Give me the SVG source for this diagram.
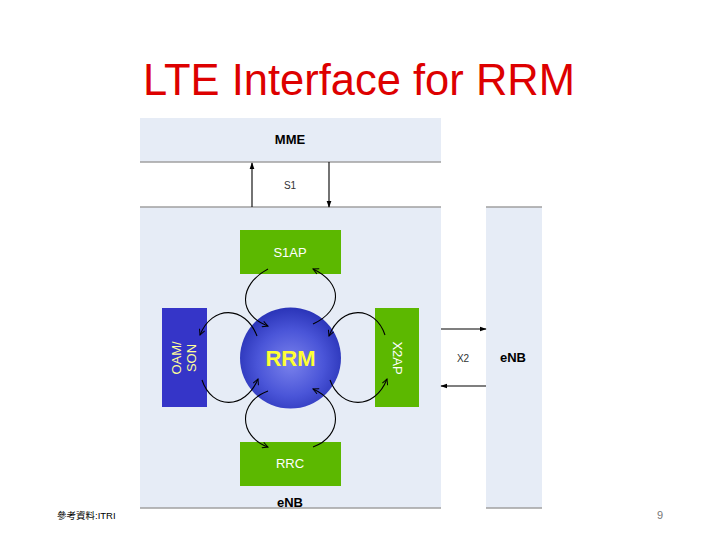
<svg xmlns="http://www.w3.org/2000/svg" width="720" height="540" viewBox="0 0 720 540">
<defs>
<style>
.bg{fill:#e6ecf6}
.edge{stroke:#a0a0a0;stroke-width:1.5}
.green{fill:#5cb800}
.lbl{font-family:"Liberation Sans",Arial,sans-serif;text-anchor:middle}
.b{font-weight:bold;font-size:13px;fill:#000}
.w{font-size:13px;fill:#fff}
.s{font-size:10px;fill:#333}
.conn path,.conn line{fill:none;stroke:#000;stroke-width:1.1}
</style>
<marker id="ah" viewBox="0 0 10 10" refX="9" refY="5" markerWidth="7" markerHeight="7" orient="auto" markerUnits="userSpaceOnUse">
<path d="M1,1 L9,5 L1,9" fill="none" stroke="#000" stroke-width="1.4"/>
</marker>
<marker id="ahs" viewBox="0 0 10 10" refX="9" refY="5" markerWidth="7" markerHeight="7" orient="auto" markerUnits="userSpaceOnUse">
<path d="M0,1.5 L10,5 L0,8.5 Z" fill="#000"/>
</marker>
<radialGradient id="rg" cx="50%" cy="55%" r="55%">
<stop offset="0" stop-color="#7a82ec"/>
<stop offset="0.6" stop-color="#4a55d8"/>
<stop offset="1" stop-color="#2a34b8"/>
</radialGradient>
</defs>
<rect width="720" height="540" fill="#fff"/>
<text x="359" y="95" font-family="'Liberation Sans',Arial,sans-serif" font-size="43.5" fill="#dd0000" text-anchor="middle">LTE Interface for RRM</text>

<g id="mme">
<rect class="bg" x="140" y="118" width="301" height="44"/>
<line class="edge" x1="140" y1="162" x2="441" y2="162"/>
<text class="lbl b" x="290" y="144">MME</text>
</g>
<g id="enb-main">
<rect class="bg" x="140" y="207" width="301" height="301"/>
<line class="edge" x1="140" y1="207" x2="441" y2="207"/>
<line class="edge" x1="140" y1="508" x2="441" y2="508"/>
<text class="lbl b" x="290" y="507">eNB</text>
</g>
<g id="enb-right">
<rect class="bg" x="486" y="207" width="56" height="301"/>
<line class="edge" x1="486" y1="207" x2="542" y2="207"/>
<line class="edge" x1="486" y1="508" x2="542" y2="508"/>
<text class="lbl b" x="513" y="362">eNB</text>
</g>
<g id="s1ap">
<rect class="green" x="240" y="230" width="101" height="44"/>
<text class="lbl w" x="290" y="257">S1AP</text>
</g>
<g id="rrc">
<rect class="green" x="240" y="442" width="101" height="44"/>
<text class="lbl w" x="290" y="468">RRC</text>
</g>
<g id="oam-son">
<rect x="162" y="308" width="45" height="99" fill="#3535c8"/>
<text class="lbl" font-size="13" fill="#ffff99" transform="translate(181,358) rotate(-90)">OAM/</text>
<text class="lbl" font-size="13" fill="#ffff99" transform="translate(196,358) rotate(-90)">SON</text>
</g>
<g id="x2ap">
<rect class="green" x="375" y="308" width="44" height="99"/>
<text class="lbl w" transform="translate(393,358) rotate(90)">X2AP</text>
</g>
<g id="rrm">
<circle cx="290.5" cy="358" r="50.5" fill="url(#rg)"/>
<text class="lbl" x="290.5" y="366" font-size="22" font-weight="bold" fill="#ffff33">RRM</text>
</g>
<g id="labels">
<text class="lbl s" x="290" y="189">S1</text>
<text class="lbl s" x="463" y="362">X2</text>
</g>
<g class="conn" id="connectors">
<line x1="252" y1="207" x2="252" y2="163" marker-end="url(#ahs)"/>
<line x1="329" y1="162" x2="329" y2="207" marker-end="url(#ahs)"/>
<line x1="441" y1="329" x2="486" y2="329" marker-end="url(#ahs)"/>
<line x1="486" y1="386" x2="441" y2="386" marker-end="url(#ahs)"/>
<path d="M268,269 C238,285 238,315 268,326" marker-end="url(#ah)"/>
<path d="M313,324 C343,310 343,283 313,269" marker-end="url(#ah)"/>
<path d="M257,336 C245,305 212,305 200,335" marker-end="url(#ah)"/>
<path d="M202,380 C212,410 245,410 258,379" marker-end="url(#ah)"/>
<path d="M385,335 C375,305 341,305 329,336" marker-end="url(#ah)"/>
<path d="M330,380 C341,410 375,410 387,379" marker-end="url(#ah)"/>
<path d="M268,391 C238,402 238,436 268,447" marker-end="url(#ah)"/>
<path d="M313,447 C343,436 343,402 313,389" marker-end="url(#ah)"/>
</g>
<text x="57" y="519" font-family="'Liberation Sans','Noto Sans CJK TC',sans-serif" font-size="9.5" fill="#000">參考資料:ITRI</text>
<text x="660" y="519" font-family="'Liberation Sans',Arial,sans-serif" font-size="11" fill="#777" text-anchor="middle">9</text>
</svg>
